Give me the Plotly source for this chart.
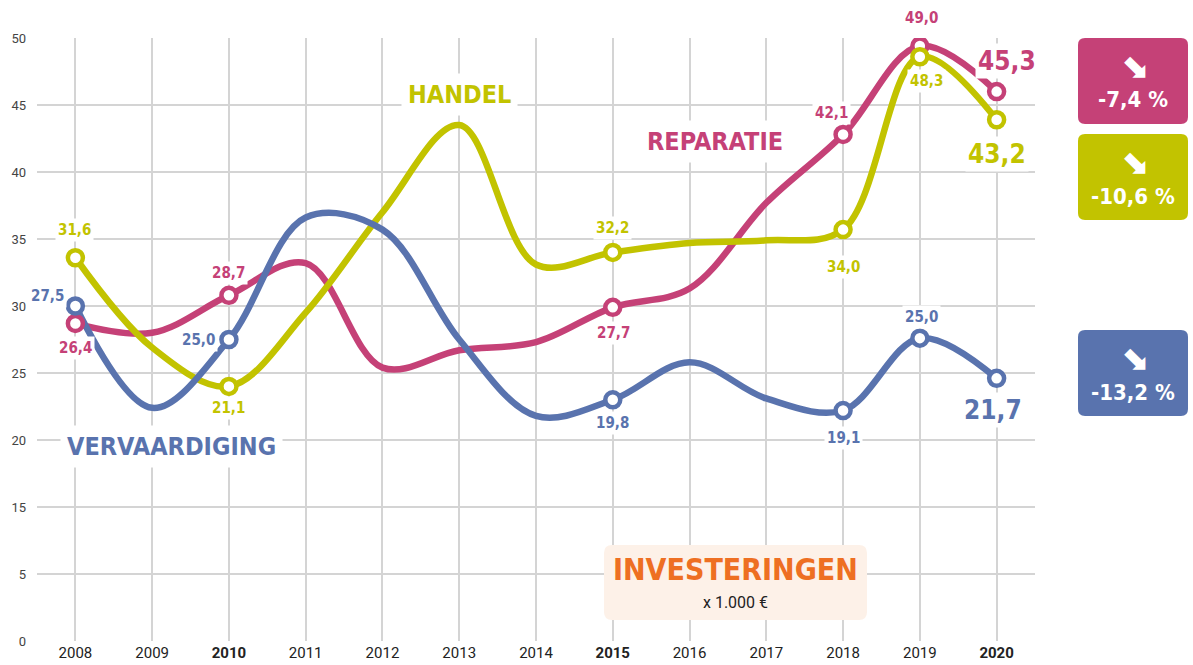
import plotly.graph_objects as go

# ---------------- data ----------------
years = list(range(2008, 2021))
vervaardiging = [30.0, 22.4, 27.5, 36.6, 35.7, 27.5, 21.8, 23.0, 25.8, 23.1, 22.2, 27.6, 24.6]
reparatie = [28.7, 28.0, 30.8, 33.2, 25.4, 26.7, 27.3, 29.9, 31.3, 37.7, 42.8, 49.4, 46.0]
handel = [33.6, 26.9, 24.0, 29.5, 37.0, 43.5, 33.1, 34.0, 34.7, 34.9, 35.7, 48.6, 43.9]

marker_years = [2008, 2010, 2015, 2018, 2019, 2020]
verv_labels = ["27,5", "25,0", "19,8", "19,1", "25,0", "21,7"]
rep_labels = ["26,4", "28,7", "27,7", "42,1", "49,0", "45,3"]
han_labels = ["31,6", "21,1", "32,2", "34,0", "48,3", "43,2"]

series_names = ["VERVAARDIGING", "REPARATIE", "HANDEL"]
changes = ["-13,2 %", "-7,4 %", "-10,6 %"]

x_ticktext = ["2008", "2009", "<b>2010</b>", "2011", "2012", "2013", "2014",
              "<b>2015</b>", "2016", "2017", "2018", "2019", "<b>2020</b>"]
y_tickvals = [5, 10, 15, 20, 25, 30, 35, 40, 45, 50]
y_ticktext = ["0", "5", "15", "20", "25", "30", "35", "40", "45", "50"]

title_main = "INVESTERINGEN"
title_sub = "x 1.000 €"

# ---------------- styles ----------------
BLUE = "#5973AE"
PINK = "#C54177"
YELLOW = "#C2C300"
ORANGE = "#EE6F22"
COND = "DejaVu Sans Condensed, Liberation Sans Narrow, Arial Narrow, sans-serif"

W, H = 1193, 665
L, R, T, B = 37, 1035, 38, 641


def px(xp):
    return (xp - L) / (R - L)


def py(yp):
    return (B - yp) / (B - T)


def rrect(x0, y0, x1, y1, r):
    pts = [
        ("M", [(x0 + r, y0)]), ("L", [(x1 - r, y0)]), ("Q", [(x1, y0), (x1, y0 + r)]),
        ("L", [(x1, y1 - r)]), ("Q", [(x1, y1), (x1 - r, y1)]), ("L", [(x0 + r, y1)]),
        ("Q", [(x0, y1), (x0, y1 - r)]), ("L", [(x0, y0 + r)]), ("Q", [(x0, y0), (x0 + r, y0)]),
    ]
    s = ""
    for cmd, ps in pts:
        s += cmd + " " + " ".join(f"{px(a):.5f},{py(b):.5f}" for a, b in ps) + " "
    return s + "Z"


fig = go.Figure()

series = [
    (reparatie, PINK, rep_labels),
    (handel, YELLOW, han_labels),
    (vervaardiging, BLUE, verv_labels),
]

for vals, col, _ in series:
    fig.add_trace(go.Scatter(
        x=years, y=vals, mode="lines",
        line=dict(color=col, width=6.5, shape="spline", smoothing=1.0),
        hoverinfo="skip", showlegend=False))

for vals, col, _ in series:
    my = [vals[years.index(yr)] for yr in marker_years]
    fig.add_trace(go.Scatter(
        x=marker_years, y=my, mode="markers",
        marker=dict(size=15, color="white", line=dict(color=col, width=4.5)),
        hoverinfo="skip", showlegend=False))

annotations = []

# data labels: offsets (xshift, yshift, big)
offsets = {
    BLUE: [(-28, 10, False), (-30, 0, False), (0, -23, False), (0, -27, False), (2, 21, False), (-4, -32, True)],
    PINK: [(0, -25, False), (0, 22, False), (1, -26, False), (-12, 21, False), (2, 28, False), (10, 31, True)],
    YELLOW: [(-1, 28, False), (0, -22, False), (0, 24, False), (0, -37, False), (7, -24, False), (0, -34, True)],
}
for vals, col, labels in series:
    for yr, lab, (dx, dy, big) in zip(marker_years, labels, offsets[col]):
        annotations.append(dict(
            x=yr, y=vals[years.index(yr)], xref="x", yref="y", text=f"<b>{lab}</b>",
            showarrow=False, xshift=dx, yshift=dy, bgcolor="white", borderpad=2,
            font=dict(family=COND, size=26 if big else 15, color=col)))

# series name labels
name_pos = [(2009.25, 19.55, BLUE), (2016.33, 42.3, PINK), (2013.0, 45.8, YELLOW)]
for name, (xx, yy, col) in zip(series_names, name_pos):
    annotations.append(dict(
        x=xx, y=yy, xref="x", yref="y", text=f"<b>{name}</b>", showarrow=False,
        bgcolor="white", borderpad=6,
        font=dict(family=COND, size=25, color=col)))

shapes = []
# change boxes
boxes = [(330, 416, BLUE), (38, 124, PINK), (134, 220, YELLOW)]
for chg, (y0, y1, col) in zip(changes, boxes):
    shapes.append(dict(type="path", path=rrect(1078, y0, 1188, y1, 7), xref="paper", yref="paper",
                       fillcolor=col, line=dict(width=0), layer="above"))
    annotations.append(dict(x=px(1134), y=py(y0 + 27), xref="paper", yref="paper", text="<b>⬊</b>",
                            xanchor="center", yanchor="middle",
                            showarrow=False, font=dict(family="DejaVu Sans", size=34, color="white")))
    annotations.append(dict(x=px(1133), y=py(y0 + 62), xref="paper", yref="paper", text=f"<b>{chg}</b>",
                            xanchor="center", yanchor="middle",
                            showarrow=False, font=dict(family=COND, size=22, color="white")))

# title box
shapes.append(dict(type="path", path=rrect(604, 545, 867, 620, 8), xref="paper", yref="paper",
                   fillcolor="#FDF1E8", line=dict(width=0), layer="above"))
annotations.append(dict(x=px(735), y=py(569), xref="paper", yref="paper", text=f"<b>{title_main}</b>",
                        xanchor="center", yanchor="middle",
                        showarrow=False, font=dict(family=COND, size=30, color=ORANGE)))
annotations.append(dict(x=px(735), y=py(602), xref="paper", yref="paper", text=title_sub,
                        xanchor="center", yanchor="middle",
                        showarrow=False, font=dict(family="Roboto", size=16, color="#222")))

fig.update_layout(
    width=W, height=H,
    margin=dict(l=L, r=W - R, t=T, b=H - B),
    paper_bgcolor="white", plot_bgcolor="white",
    shapes=shapes, annotations=annotations,
    xaxis=dict(range=[2007.5, 2020.5], tickvals=years, ticktext=x_ticktext,
               showgrid=True, gridcolor="#D4D4D4", gridwidth=1.5, zeroline=False,
               showline=False, ticks="", ticklabelstandoff=1, automargin=False,
               tickfont=dict(family="Roboto", size=15, color="#222"),
               fixedrange=True),
    yaxis=dict(range=[5, 50], tickvals=y_tickvals, ticktext=y_ticktext,
               showgrid=True, gridcolor="#D4D4D4", gridwidth=1.5, zeroline=False,
               showline=False, ticks="", ticklabelstandoff=10, automargin=False,
               tickfont=dict(family="Roboto", size=13, color="#444"), fixedrange=True),
)

fig.write_html("out.html", config={"displayModeBar": False},
               post_script="document.body.style.margin='0px';")
